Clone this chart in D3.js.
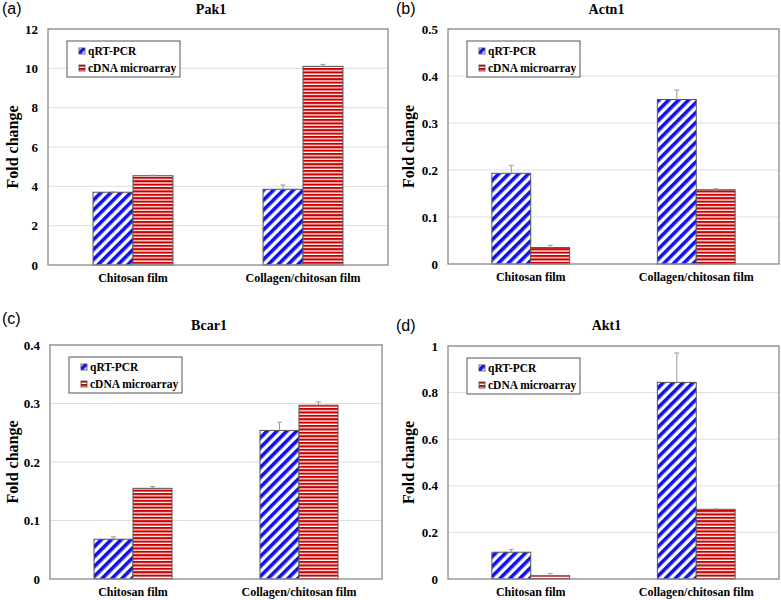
<!DOCTYPE html>
<html>
<head>
<meta charset="utf-8">
<script src="https://cdn.jsdelivr.net/npm/d3@7"></script>
<style>
  body { margin: 0; background: #fff; }
  svg { display: block; }
</style>
</head>
<body>
<svg id="fig" width="781" height="600"></svg>
<script>
// ---- data ----
const categories = ["Chitosan film", "Collagen/chitosan film"];
const seriesNames = ["qRT-PCR", "cDNA microarray"];
const genes = ["Pak1", "Actn1", "Bcar1", "Akt1"];
const panelTags = ["(a)", "(b)", "(c)", "(d)"];
const yMax = [12, 0.5, 0.4, 1];
const yStep = [2, 0.1, 0.1, 0.2];

const qpcrValues  = [[3.70, 3.85], [0.193, 0.350], [0.068, 0.254], [0.115, 0.844]];
const qpcrErrors  = [[0.02, 0.22], [0.017, 0.020], [0.004, 0.014], [0.012, 0.126]];
const arrayValues = [[4.54, 10.1], [0.035, 0.158], [0.155, 0.297], [0.014, 0.299]];
const arrayErrors = [[0.03, 0.10], [0.005, 0.002], [0.003, 0.006], [0.009, 0.002]];

// plot frames (pixel layout of the four panels)
const frames = [
  { x0: 48,  x1: 388, y0: 29,  y1: 265, tagX: 2,   tagY: 14,  titleY: 14,  labX: 12 },
  { x0: 448, x1: 779, y0: 29,  y1: 264, tagX: 396, tagY: 14,  titleY: 14,  labX: 408 },
  { x0: 50,  x1: 382, y0: 345, y1: 579, tagX: 2,   tagY: 324, titleY: 330, labX: 12 },
  { x0: 448, x1: 779, y0: 346, y1: 579, tagX: 396, tagY: 331, titleY: 330, labX: 408 }
];

const SERIF = "'Liberation Serif', 'Times New Roman', serif";
const BLUE = "#1010f0";
const RED = "#c80000";

const svg = d3.select("#fig");
const defs = svg.append("defs");

// diagonal blue stripes
const diag = defs.append("pattern")
  .attr("id", "diag")
  .attr("patternUnits", "userSpaceOnUse")
  .attr("width", 7).attr("height", 7)
  .attr("patternTransform", "rotate(45)");
diag.append("rect").attr("width", 7).attr("height", 7).attr("fill", "#fff");
diag.append("rect").attr("width", 3.6).attr("height", 7).attr("fill", BLUE);

// horizontal red stripes
const horiz = defs.append("pattern")
  .attr("id", "horiz")
  .attr("patternUnits", "userSpaceOnUse")
  .attr("width", 10).attr("height", 3.4);
horiz.append("rect").attr("width", 10).attr("height", 3.4).attr("fill", "#fff");
horiz.append("rect").attr("width", 10).attr("height", 2.1).attr("fill", RED);

const fills = ["url(#diag)", "url(#horiz)"];

genes.forEach((gene, i) => {
  const f = frames[i];
  const g = svg.append("g");

  const x = d3.scaleBand().domain(categories).range([f.x0, f.x1])
    .paddingInner(0.53).paddingOuter(0.265);
  const xs = d3.scaleBand().domain(seriesNames).range([0, x.bandwidth()]);
  const y = d3.scaleLinear().domain([0, yMax[i]]).range([f.y1, f.y0]);

  const ticks = d3.range(0, yMax[i] + yStep[i] / 2, yStep[i]);

  // gridlines
  g.append("g").selectAll("line")
    .data(ticks.slice(1))
    .join("line")
    .attr("x1", f.x0).attr("x2", f.x1)
    .attr("y1", d => y(d)).attr("y2", d => y(d))
    .attr("stroke", "#dedede").attr("stroke-width", 1);

  // y axis labels
  const yAxis = d3.axisLeft(y).tickValues(ticks).tickSize(0).tickPadding(10)
    .tickFormat(d => +d.toFixed(2));
  const ya = g.append("g").attr("transform", `translate(${f.x0},0)`).call(yAxis);
  ya.select(".domain").remove();
  ya.selectAll("text")
    .style("font-family", SERIF).style("font-weight", "bold")
    .style("font-size", "13px").attr("fill", "#000");

  // bars
  const rows = categories.map((c, ci) => ({
    cat: c,
    vals: [
      { s: seriesNames[0], v: qpcrValues[i][ci], e: qpcrErrors[i][ci], k: 0 },
      { s: seriesNames[1], v: arrayValues[i][ci], e: arrayErrors[i][ci], k: 1 }
    ]
  }));

  const grp = g.append("g").selectAll("g")
    .data(rows).join("g")
    .attr("transform", d => `translate(${x(d.cat)},0)`);

  grp.selectAll("rect")
    .data(d => d.vals).join("rect")
    .attr("x", d => xs(d.s))
    .attr("y", d => y(d.v))
    .attr("width", xs.bandwidth())
    .attr("height", d => f.y1 - y(d.v))
    .attr("fill", d => fills[d.k])
    .attr("stroke", "#555").attr("stroke-width", 1);

  // error bars (upper only)
  const eb = grp.selectAll("g.err")
    .data(d => d.vals).join("g").attr("class", "err");
  eb.append("line")
    .attr("x1", d => xs(d.s) + xs.bandwidth() / 2)
    .attr("x2", d => xs(d.s) + xs.bandwidth() / 2)
    .attr("y1", d => y(d.v)).attr("y2", d => y(d.v + d.e))
    .attr("stroke", "#999").attr("stroke-width", 1);
  eb.append("line")
    .attr("x1", d => xs(d.s) + xs.bandwidth() / 2 - 2.5)
    .attr("x2", d => xs(d.s) + xs.bandwidth() / 2 + 2.5)
    .attr("y1", d => y(d.v + d.e)).attr("y2", d => y(d.v + d.e))
    .attr("stroke", "#999").attr("stroke-width", 1);

  // plot frame
  g.append("rect")
    .attr("x", f.x0).attr("y", f.y0)
    .attr("width", f.x1 - f.x0).attr("height", f.y1 - f.y0)
    .attr("fill", "none").attr("stroke", "#8a8a8a").attr("stroke-width", 1.3);

  // x category labels
  const xAxis = d3.axisBottom(x).tickSize(0).tickPadding(8);
  const xa = g.append("g").attr("transform", `translate(0,${f.y1})`).call(xAxis);
  xa.select(".domain").remove();
  xa.selectAll("text")
    .style("font-family", SERIF).style("font-weight", "bold")
    .style("font-size", "12px").attr("fill", "#000");

  // title
  g.append("text")
    .attr("x", (f.x0 + f.x1) / 2 - 7).attr("y", f.titleY)
    .attr("text-anchor", "middle")
    .style("font-family", SERIF).style("font-weight", "bold").style("font-size", "14px")
    .text(gene);

  // panel tag
  g.append("text")
    .attr("x", f.tagX).attr("y", f.tagY)
    .style("font-family", "'Liberation Sans', Arial, sans-serif").style("font-size", "16px")
    .text(panelTags[i]);

  // y axis title
  g.append("text")
    .attr("transform", `translate(${f.labX},${(f.y0 + f.y1) / 2}) rotate(-90)`)
    .attr("text-anchor", "middle").attr("dy", "0.35em")
    .style("font-family", SERIF).style("font-weight", "bold").style("font-size", "16px")
    .text("Fold change");

  // legend
  const lx = f.x0 + 19, ly = f.y0 + 12;
  const leg = g.append("g").attr("transform", `translate(${lx},${ly})`);
  leg.append("rect")
    .attr("width", 113).attr("height", 36)
    .attr("fill", "#fff").attr("stroke", "#555").attr("stroke-width", 1);
  const items = leg.selectAll("g.item")
    .data(seriesNames).join("g").attr("class", "item")
    .attr("transform", (d, k) => `translate(12,${10 + k * 17})`);
  items.append("rect")
    .attr("x", 0).attr("y", -3).attr("width", 6).attr("height", 6)
    .attr("fill", (d, k) => fills[k]).attr("stroke", "#444").attr("stroke-width", 0.8);
  items.append("text")
    .attr("x", 9).attr("dy", "0.35em")
    .style("font-family", SERIF).style("font-weight", "bold").style("font-size", "11.5px")
    .text(d => d);
});
</script>
</body>
</html>
